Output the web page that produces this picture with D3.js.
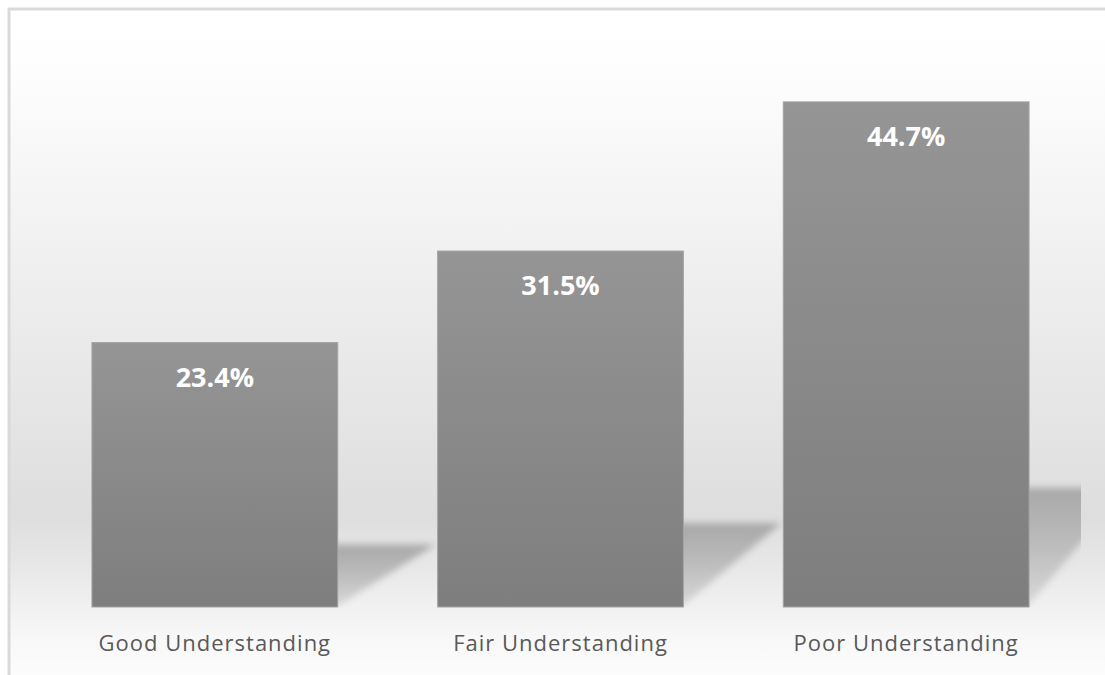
<!DOCTYPE html>
<html>
<head>
<meta charset="utf-8">
<script src="https://cdn.jsdelivr.net/npm/d3@7"></script>
<style>
  html, body { margin: 0; padding: 0; background: #ffffff; }
  svg { display: block; }
</style>
</head>
<body>
<div id="chart"></div>
<script>
// chart data
const categories = ["Good Understanding", "Fair Understanding", "Poor Understanding"];
const values = [23.4, 31.5, 44.7];
const valueLabels = ["23.4%", "31.5%", "44.7%"];

const W = 1105, H = 675;
const plot = { left: 42, right: 1079, bottom: 607, top: 42 };

const svg = d3.select("#chart").append("svg")
    .attr("width", W)
    .attr("height", H);

const defs = svg.append("defs");

// background: white top fading to grey, then a lighter "floor"
const bg = defs.append("linearGradient")
    .attr("id", "bgGrad")
    .attr("gradientUnits", "userSpaceOnUse")
    .attr("x1", 0).attr("y1", 10).attr("x2", 0).attr("y2", H);
[[10, "#ffffff"], [62, "#fefefe"], [300, "#ededed"], [515, "#dedede"], [560, "#e6e6e6"],
 [607, "#f1f1f1"], [640, "#f8f8f8"], [675, "#fcfcfc"]].forEach(s => {
    bg.append("stop").attr("offset", (s[0] - 10) / (H - 10)).attr("stop-color", s[1]);
});

// bar fill
const barGrad = defs.append("linearGradient")
    .attr("id", "barGrad")
    .attr("x1", 0).attr("y1", 0).attr("x2", 0).attr("y2", 1);
barGrad.append("stop").attr("offset", 0).attr("stop-color", "#959595");
barGrad.append("stop").attr("offset", 1).attr("stop-color", "#7e7e7e");

// shadow fill
const shGrad = defs.append("linearGradient")
    .attr("id", "shGrad")
    .attr("x1", 0).attr("y1", 0).attr("x2", 0).attr("y2", 1);
shGrad.append("stop").attr("offset", 0).attr("stop-color", "#a8a8a8");
shGrad.append("stop").attr("offset", 0.5).attr("stop-color", "#bdbdbd");
shGrad.append("stop").attr("offset", 1).attr("stop-color", "#d9d9d9");

defs.append("filter").attr("id", "blur")
    .attr("x", "-20%").attr("y", "-20%").attr("width", "140%").attr("height", "140%")
    .append("feGaussianBlur").attr("stdDeviation", 3.5);

defs.append("clipPath").attr("id", "plotClip")
    .append("rect")
    .attr("x", plot.left).attr("y", 0)
    .attr("width", plot.right - plot.left + 2).attr("height", plot.bottom);

svg.append("rect")
    .attr("x", 9).attr("y", 9)
    .attr("width", W + 20).attr("height", H + 20)
    .attr("fill", "url(#bgGrad)")
    .attr("stroke", "#d9d9d9")
    .attr("stroke-width", 3);

// scales
const x = d3.scaleBand()
    .domain(categories)
    .range([plot.left, plot.right])
    .paddingInner(0.289)
    .paddingOuter(0.1445);

const y = d3.scaleLinear()
    .domain([0, 50])
    .range([plot.bottom, plot.top]);

const data = categories.map((c, i) => ({ cat: c, value: values[i], label: valueLabels[i] }));

// perspective shadows behind bars
const shadowK = 0.236, shadowDx = 98;
svg.append("g")
    .attr("clip-path", "url(#plotClip)")
    .selectAll("path")
    .data(data)
    .enter().append("path")
    .attr("d", d => {
        const xr = x(d.cat) + x.bandwidth();
        const yt = y(0) - shadowK * (y(0) - y(d.value));
        return "M" + (xr - 10) + "," + yt + "L" + (xr + shadowDx) + "," + yt +
            "L" + (xr - 2) + "," + y(0) + "L" + (xr - 10) + "," + y(0) + "Z";
    })
    .attr("fill", "url(#shGrad)")
    .attr("filter", "url(#blur)");

// bars
svg.selectAll(".bar")
    .data(data)
    .enter().append("rect")
    .attr("class", "bar")
    .attr("x", d => x(d.cat))
    .attr("y", d => y(d.value))
    .attr("width", x.bandwidth())
    .attr("height", d => y(0) - y(d.value))
    .attr("fill", "url(#barGrad)")
    .attr("stroke", "#a3a3a3")
    .attr("stroke-width", 1);

// value labels
svg.selectAll(".val")
    .data(data)
    .enter().append("text")
    .attr("class", "val")
    .attr("x", d => x(d.cat) + x.bandwidth() / 2)
    .attr("y", d => y(d.value) + 44)
    .attr("text-anchor", "middle")
    .attr("font-family", "'Open Sans', sans-serif")
    .attr("font-weight", "bold")
    .attr("font-size", "27px")
    .attr("fill", "#ffffff")
    .text(d => d.label);

// category axis labels
const xAxis = d3.axisBottom(x).tickSize(0).tickPadding(0);
const ax = svg.append("g")
    .attr("transform", "translate(0," + plot.bottom + ")")
    .call(xAxis);
ax.select(".domain").remove();
ax.selectAll("text")
    .attr("y", 44)
    .attr("dy", 0)
    .attr("font-family", "'Open Sans', sans-serif")
    .attr("font-size", "22px")
    .attr("letter-spacing", "1px")
    .attr("fill", "#595959");
</script>
</body>
</html>
